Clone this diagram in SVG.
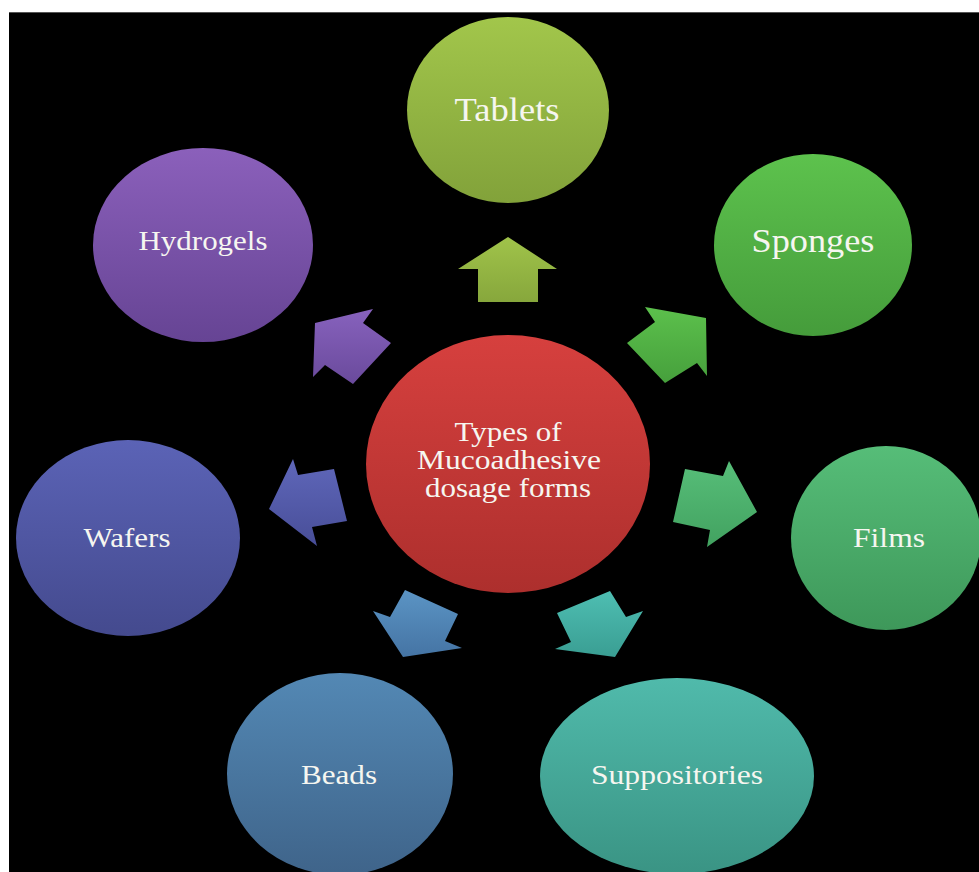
<svg xmlns="http://www.w3.org/2000/svg" width="979" height="872" viewBox="0 0 979 872">
<defs>
<linearGradient id="gTab" x1="0" y1="0" x2="0" y2="1"><stop offset="0" stop-color="#a2c64b"/><stop offset="1" stop-color="#82a23a"/></linearGradient>
<linearGradient id="gSpo" x1="0" y1="0" x2="0" y2="1"><stop offset="0" stop-color="#5dc24d"/><stop offset="1" stop-color="#459c3b"/></linearGradient>
<linearGradient id="gFil" x1="0" y1="0" x2="0" y2="1"><stop offset="0" stop-color="#56bd78"/><stop offset="1" stop-color="#3e985a"/></linearGradient>
<linearGradient id="gSup" x1="0" y1="0" x2="0" y2="1"><stop offset="0" stop-color="#50baab"/><stop offset="1" stop-color="#3a9484"/></linearGradient>
<linearGradient id="gBea" x1="0" y1="0" x2="0" y2="1"><stop offset="0" stop-color="#5388b4"/><stop offset="1" stop-color="#3f648a"/></linearGradient>
<linearGradient id="gWaf" x1="0" y1="0" x2="0" y2="1"><stop offset="0" stop-color="#5b63b6"/><stop offset="1" stop-color="#444a8e"/></linearGradient>
<linearGradient id="gHyd" x1="0" y1="0" x2="0" y2="1"><stop offset="0" stop-color="#8b60bb"/><stop offset="1" stop-color="#664494"/></linearGradient>
<linearGradient id="gCen" x1="0" y1="0" x2="0" y2="1"><stop offset="0" stop-color="#d6403e"/><stop offset="1" stop-color="#ad2f2d"/></linearGradient>
<linearGradient id="aTab" x1="0" y1="0" x2="0" y2="1"><stop offset="0" stop-color="#a0c34a"/><stop offset="1" stop-color="#87a73c"/></linearGradient>
<linearGradient id="aSpo" x1="0" y1="0" x2="0" y2="1"><stop offset="0" stop-color="#5cc04c"/><stop offset="1" stop-color="#46a03c"/></linearGradient>
<linearGradient id="aFil" x1="0" y1="0" x2="0" y2="1"><stop offset="0" stop-color="#57be79"/><stop offset="1" stop-color="#42a260"/></linearGradient>
<linearGradient id="aSup" x1="0" y1="0" x2="0" y2="1"><stop offset="0" stop-color="#4ebeb2"/><stop offset="1" stop-color="#3a9e93"/></linearGradient>
<linearGradient id="aBea" x1="0" y1="0" x2="0" y2="1"><stop offset="0" stop-color="#5b94c4"/><stop offset="1" stop-color="#4574a4"/></linearGradient>
<linearGradient id="aWaf" x1="0" y1="0" x2="0" y2="1"><stop offset="0" stop-color="#5f67ba"/><stop offset="1" stop-color="#484e98"/></linearGradient>
<linearGradient id="aHyd" x1="0" y1="0" x2="0" y2="1"><stop offset="0" stop-color="#8762bd"/><stop offset="1" stop-color="#6a4a9c"/></linearGradient>
</defs>
<style>
text { font-family: "Liberation Serif", "Times New Roman", serif; fill: #f6f6f0; text-anchor: middle; }
.s { font-size: 28px; }
.b { font-size: 34px; }
</style>
<rect x="0" y="0" width="979" height="872" fill="#ffffff"/>
<rect x="9" y="12" width="970" height="860" fill="#000000"/>
<line x1="9" y1="12.5" x2="979" y2="12.5" stroke="#555" stroke-width="1"/>

<g id="connectors">
<polygon fill="url(#aTab)" points="508,237 557,269 538,269 538,302 478,302 478,269 458,269"/>
<polygon fill="url(#aSpo)" points="645,307 706,318 707,376 697,363 665,383 627,343 655,322"/>
<polygon fill="url(#aFil)" points="685,469 723,476 729,461 757,512 707,547 710,530 673,522"/>
<polygon fill="url(#aSup)" points="557,613 610,591 626,617 643,611 615,657 555,649 571,642"/>
<polygon fill="url(#aBea)" points="373,611 390,617 405,590 458,614 445,641 462,648 403,657"/>
<polygon fill="url(#aWaf)" points="293,459 298,475 334,469 347,521 312,527 317,546 269,509"/>
<polygon fill="url(#aHyd)" points="373,309 363,323 391,343 353,384 325,365 313,377 315,323"/>
</g>

<g id="center">
<ellipse cx="508" cy="464" rx="142" ry="129" fill="url(#gCen)"/>
<text class="s" x="508" y="441" textLength="107" lengthAdjust="spacingAndGlyphs">Types of</text>
<text class="s" x="509" y="469" textLength="184" lengthAdjust="spacingAndGlyphs">Mucoadhesive</text>
<text class="s" x="508" y="497" textLength="166" lengthAdjust="spacingAndGlyphs">dosage forms</text>
</g>

<g id="tablets">
<ellipse cx="508" cy="110" rx="101" ry="93" fill="url(#gTab)"/>
<text class="b" x="507" y="121" textLength="105" lengthAdjust="spacingAndGlyphs">Tablets</text>
</g>

<g id="sponges">
<ellipse cx="813" cy="245" rx="99" ry="91" fill="url(#gSpo)"/>
<text class="b" x="813" y="252" textLength="123" lengthAdjust="spacingAndGlyphs">Sponges</text>
</g>

<g id="films">
<ellipse cx="886" cy="538" rx="95" ry="92" fill="url(#gFil)"/>
<text class="s" x="889" y="547" textLength="72" lengthAdjust="spacingAndGlyphs">Films</text>
</g>

<g id="suppositories">
<ellipse cx="677" cy="776" rx="137" ry="98" fill="url(#gSup)"/>
<text class="s" x="677" y="784" textLength="172" lengthAdjust="spacingAndGlyphs">Suppositories</text>
</g>

<g id="beads">
<ellipse cx="340" cy="774" rx="113" ry="101" fill="url(#gBea)"/>
<text class="s" x="339" y="784" textLength="76" lengthAdjust="spacingAndGlyphs">Beads</text>
</g>

<g id="wafers">
<ellipse cx="128" cy="538" rx="112" ry="98" fill="url(#gWaf)"/>
<text class="s" x="127" y="547" textLength="87" lengthAdjust="spacingAndGlyphs">Wafers</text>
</g>

<g id="hydrogels">
<ellipse cx="203" cy="245" rx="110" ry="97" fill="url(#gHyd)"/>
<text class="s" x="203" y="250" textLength="129" lengthAdjust="spacingAndGlyphs">Hydrogels</text>
</g>
</svg>
